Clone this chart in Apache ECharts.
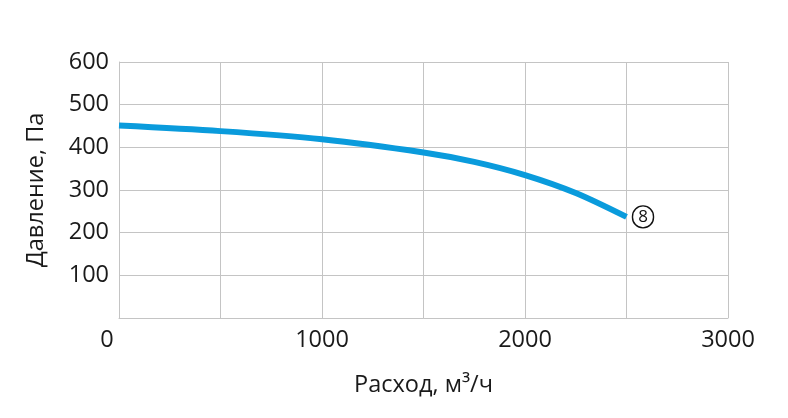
<!DOCTYPE html>
<html><head><meta charset="utf-8">
<script src="https://cdn.jsdelivr.net/npm/echarts@6/dist/echarts.min.js"></script>
<style>html,body{margin:0;padding:0;background:#fff}#c{width:788px;height:418px}</style>
</head><body><div id="c"></div>
<script>
const flow = [0, 500, 1000, 1500, 1750, 2000, 2250, 2500];
const pressure = [451, 438, 419, 388, 366, 335, 293, 237];
const curveLabel = '8';
const xName = 'Расход, м³/ч';
const yName = 'Давление, Па';

const chart = echarts.init(document.getElementById('c'), null, {renderer: 'canvas'});
const font = '"Open Sans", "Noto Sans", sans-serif';
const fs = 23.5;
const txt = '#1a1a1a';
const gridColor = '#c4c4c4';
chart.setOption({
  animation: false,
  grid: {left: 119, right: 60, top: 62, bottom: 100},
  xAxis: {
    type: 'value', min: 0, max: 3000, interval: 500,
    name: xName, nameLocation: 'middle', nameGap: 55,
    nameTextStyle: {fontFamily: font, fontSize: fs, color: txt},
    axisLine: {show: true, lineStyle: {color: gridColor, width: 1}},
    axisTick: {show: false},
    splitLine: {show: true, lineStyle: {color: gridColor, width: 1}},
    axisLabel: {
      fontFamily: font, fontSize: fs, color: txt, margin: 10,
      formatter: v => v === 0 ? '{z|0}' : (v % 1000 === 0 ? String(v) : ''),
      rich: {z: {fontFamily: font, fontSize: fs, color: txt, padding: [0, 24, 0, 0]}}
    }
  },
  yAxis: {
    type: 'value', min: 0, max: 600, interval: 100,
    name: yName, nameLocation: 'middle', nameGap: 71, nameRotate: 90,
    nameTextStyle: {fontFamily: font, fontSize: fs, color: txt},
    axisLine: {show: true, lineStyle: {color: gridColor, width: 1}},
    axisTick: {show: false},
    splitLine: {show: true, lineStyle: {color: gridColor, width: 1}},
    axisLabel: {
      fontFamily: font, fontSize: fs, color: txt, margin: 10,
      formatter: v => v === 0 ? '' : String(v)
    }
  },
  series: [{
    type: 'line',
    data: flow.map((x, i) => [x, pressure[i]]),
    smooth: 0.3,
    symbol: 'none',
    lineStyle: {color: '#0a9bdc', width: 6, cap: 'butt'},
    endLabel: {
      show: true, distance: 6,
      formatter: () => '{c|' + curveLabel + '}',
      rich: {c: {fontFamily: font, fontSize: 17, color: '#111', width: 21, height: 21, lineHeight: 21,
        align: 'center', borderColor: '#111', borderWidth: 1.4, borderRadius: 12, padding: [1, 0, 0, 0]}}
    }
  }]
});
</script></body></html>
